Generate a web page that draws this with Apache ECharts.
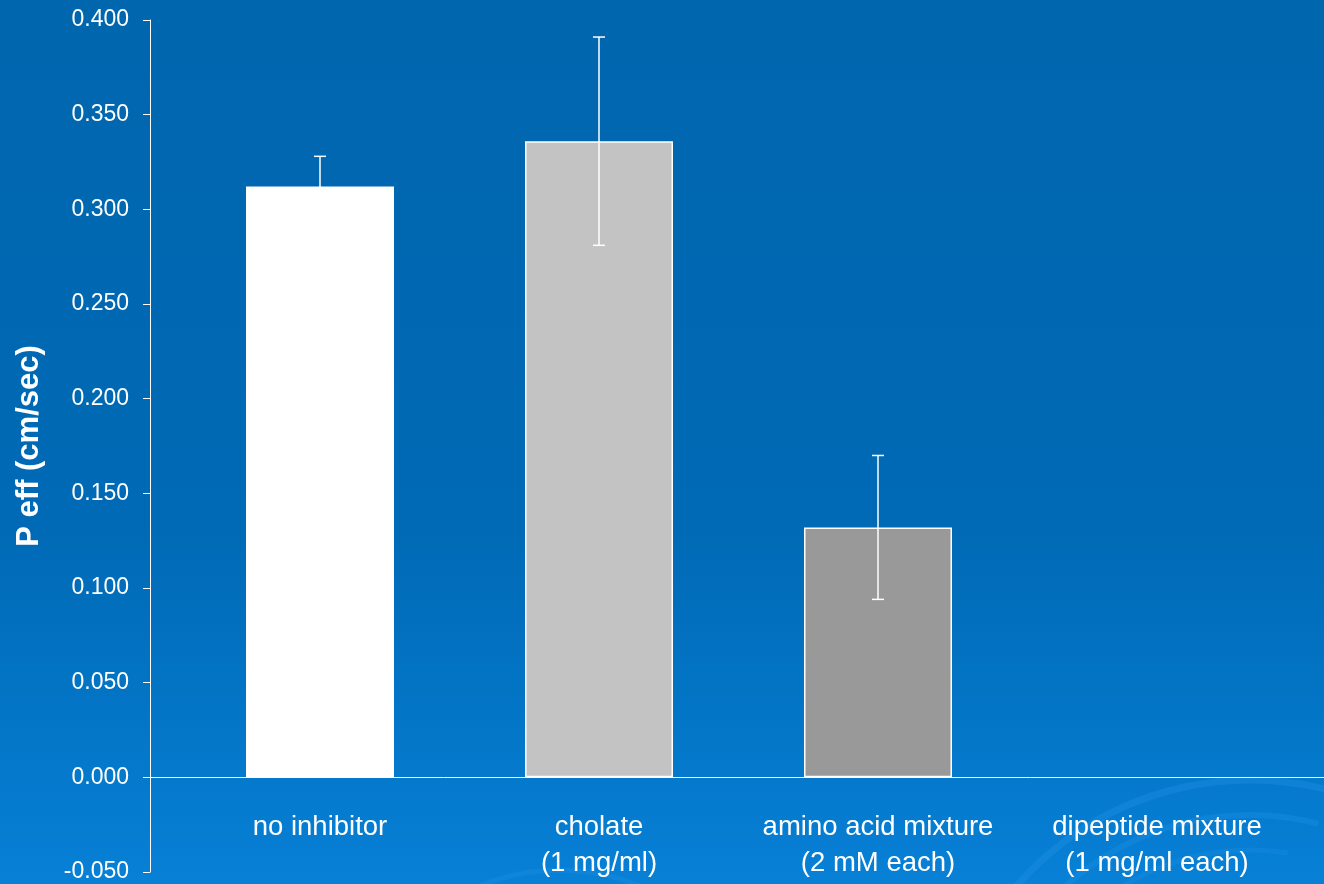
<!DOCTYPE html>
<html>
<head>
<meta charset="utf-8">
<script src="https://cdn.jsdelivr.net/npm/echarts@6/dist/echarts.min.js"></script>
<style>
  html, body { margin: 0; padding: 0; }
  #chart { width: 1324px; height: 884px; }
</style>
</head>
<body>
<div id="chart"></div>
<script>
// Permeability by inhibitor condition
const categories = [
  'no inhibitor',
  'cholate\n(1 mg/ml)',
  'amino acid mixture\n(2 mM each)',
  'dipeptide mixture\n(1 mg/ml each)'
];
const means = [0.312, 0.336, 0.132, null];
const errors = [0.016, 0.055, 0.038, null];
const yTicks = { min: -0.05, max: 0.4, step: 0.05 };

const barColors = ['#ffffff', '#c3c3c3', '#999999', '#999999'];
const FONT = '"Liberation Sans", Arial, sans-serif';

const chart = echarts.init(document.getElementById('chart'));

const barData = means.map((v, i) => ({
  value: v,
  itemStyle: { color: barColors[i] }
}));
const errData = means.map((v, i) =>
  v == null ? [i, null, null] : [i, v - errors[i], v + errors[i]]
);

const option = {
  animation: false,
  backgroundColor: {
    type: 'linear', x: 0, y: 0, x2: 0, y2: 1,
    colorStops: [
      { offset: 0, color: '#0066ae' },
      { offset: 0.6, color: '#006ab6' },
      { offset: 1, color: '#0780d6' }
    ]
  },
  graphic: [
    // faint swirl decoration in the lower right
    { type: 'arc', silent: true, z: -1, shape: { cx: 1250, cy: 1090, r: 310, startAngle: Math.PI * 1.05, endAngle: Math.PI * 1.62 }, style: { fill: null, stroke: 'rgba(40,150,235,0.3)', lineWidth: 7 } },
    { type: 'arc', silent: true, z: -1, shape: { cx: 1250, cy: 1090, r: 275, startAngle: Math.PI * 1.1, endAngle: Math.PI * 1.58 }, style: { fill: null, stroke: 'rgba(40,150,235,0.25)', lineWidth: 6 } },
    { type: 'arc', silent: true, z: -1, shape: { cx: 1250, cy: 1090, r: 240, startAngle: Math.PI * 1.12, endAngle: Math.PI * 1.55 }, style: { fill: null, stroke: 'rgba(40,150,235,0.22)', lineWidth: 5 } },
    { type: 'arc', silent: true, z: -1, shape: { cx: 560, cy: 1080, r: 210, startAngle: Math.PI * 1.2, endAngle: Math.PI * 1.75 }, style: { fill: null, stroke: 'rgba(40,150,235,0.25)', lineWidth: 5 } }
  ],
  grid: [
    { left: 180.5, right: 27.5, top: 20, bottom: 12, outerBoundsMode: 'none', containLabel: false },
    { left: 150, right: 0, top: 20, bottom: 12, outerBoundsMode: 'none', containLabel: false }
  ],
  xAxis: [
    {
      // category labels sit in the negative band, above the plot's bottom edge
      type: 'category', gridIndex: 0, data: categories, position: 'bottom',
      axisLine: { show: false, onZero: false },
      axisTick: { show: false },
      axisLabel: {
        color: '#ffffff', fontSize: 27.5, lineHeight: 36, margin: -63,
        fontFamily: FONT, interval: 0, hideOverlap: false
      }
    },
    {
      type: 'category', gridIndex: 1, data: [''],
      axisLine: { onZero: true, lineStyle: { color: '#ffffff', width: 1 } },
      axisTick: { show: false },
      axisLabel: { show: false }
    }
  ],
  yAxis: [
    {
      type: 'value', gridIndex: 0,
      min: yTicks.min, max: yTicks.max, interval: yTicks.step,
      show: false, splitLine: { show: false }
    },
    {
      type: 'value', gridIndex: 1,
      min: yTicks.min, max: yTicks.max, interval: yTicks.step,
      name: 'P eff (cm/sec)',
      nameLocation: 'middle', nameGap: 105,
      nameTextStyle: { color: '#ffffff', fontSize: 31, fontWeight: 'bold', fontFamily: FONT },
      axisLine: { show: true, onZero: false, lineStyle: { color: '#ffffff', width: 1 } },
      axisTick: { show: true, length: 7, lineStyle: { color: '#ffffff' } },
      axisLabel: {
        color: '#ffffff', fontSize: 23, margin: 21, fontFamily: FONT,
        formatter: v => v.toFixed(3)
      },
      splitLine: { show: false }
    }
  ],
  series: [
    {
      type: 'bar', xAxisIndex: 0, yAxisIndex: 0,
      data: barData, barWidth: 148,
      itemStyle: { borderColor: '#ffffff', borderWidth: 1.5 }
    },
    {
      type: 'custom', xAxisIndex: 0, yAxisIndex: 0, z: 5,
      data: errData,
      encode: { x: 0, y: [1, 2] },
      renderItem: function (params, api) {
        const lo = api.value(1), hi = api.value(2);
        if (lo == null || isNaN(lo)) return null;
        const x = api.value(0);
        const pLo = api.coord([x, lo]);
        const pHi = api.coord([x, hi]);
        const cap = 6;
        const style = { stroke: '#ffffff', lineWidth: 1.5 };
        return {
          type: 'group',
          children: [
            { type: 'line', shape: { x1: pLo[0], y1: pLo[1], x2: pHi[0], y2: pHi[1] }, style },
            { type: 'line', shape: { x1: pHi[0] - cap, y1: pHi[1], x2: pHi[0] + cap, y2: pHi[1] }, style },
            { type: 'line', shape: { x1: pLo[0] - cap, y1: pLo[1], x2: pLo[0] + cap, y2: pLo[1] }, style }
          ]
        };
      }
    }
  ]
};

chart.setOption(option);
</script>
</body>
</html>
